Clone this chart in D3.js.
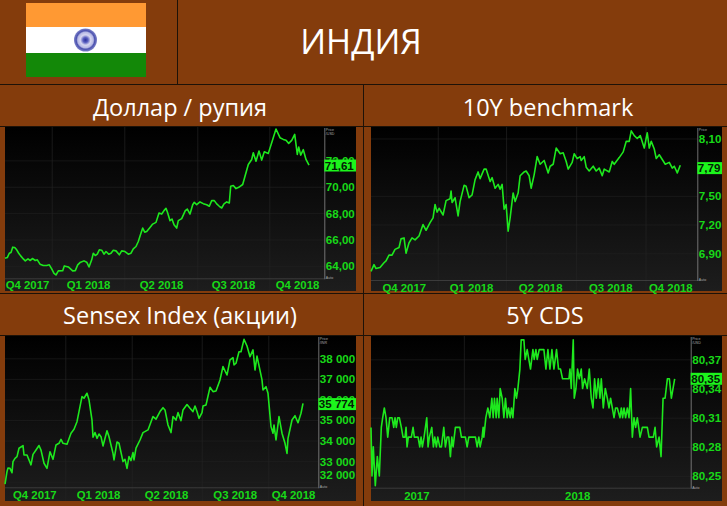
<!DOCTYPE html>
<html><head><meta charset="utf-8">
<script src="https://cdn.jsdelivr.net/npm/d3@7/dist/d3.min.js"></script>
<style>html,body{margin:0;padding:0;background:#843C0C;overflow:hidden}svg{display:block}</style>
</head><body><svg id="c" width="727" height="506"></svg>
<script>
const pageTitle = "ИНДИЯ";
const panelTitles = ["Доллар / рупия","10Y benchmark","Sensex Index (акции)","5Y CDS"];
const quarterLabels = ["Q4 2017","Q1 2018","Q2 2018","Q3 2018","Q4 2018"];
const yearLabels = ["2017","2018"];

const usdValues = [[0,64.58],[2.3,64.63],[4.3,64.96],[6,65.02],[7.7,65.42],[9.7,65.40],[11.7,65.22],[13.7,64.96],[15.7,64.76],[18.3,64.53],[20.3,64.38],[23,64.53],[25,64.41],[27.7,64.56],[30.3,64.41],[32.3,64.46],[35,64.13],[38.3,64.03],[41.7,64.03],[44.3,64.08],[46.7,63.77],[49,63.44],[51,63.31],[53.3,63.62],[57.7,63.64],[59.3,64.00],[63.3,63.92],[67.7,63.62],[70.3,63.64],[72.7,64.08],[75,64.25],[79,64.38],[81.7,64.28],[84,63.92],[86.7,64.46],[88.3,64.96],[90.3,64.79],[92.3,64.89],[94.3,65.22],[96.7,65.19],[99,64.89],[101,65.09],[103.7,64.89],[106,64.96],[108.3,65.19],[111,65.14],[114.3,64.84],[116.7,65.14],[120,65.09],[123.3,64.89],[126,64.96],[128.3,65.29],[131,65.47],[133.3,65.85],[135.7,66.41],[137.7,66.87],[139.7,66.56],[141.7,66.61],[145,66.92],[147.7,67.17],[151,67.30],[154,68.01],[156.7,67.93],[159,68.19],[161,68.37],[162.7,68.01],[165,67.43],[167,67.55],[169,67.12],[171.7,66.87],[173.3,67.43],[176.7,67.58],[180.3,68.19],[182.3,68.31],[185,67.93],[187.7,68.64],[189.3,68.82],[191.7,68.64],[195,68.85],[198.3,68.72],[201.7,68.64],[204.3,68.52],[206.7,68.95],[209.3,68.95],[211.7,68.70],[214.3,68.52],[216.7,68.39],[219,68.70],[221.7,68.85],[224.3,68.77],[225.7,70.04],[228.3,70.09],[231,69.86],[233.7,69.96],[237.7,70.17],[240,70.80],[243.3,71.69],[246.7,72.07],[248.3,72.58],[251,71.94],[254,72.71],[256.7,72.02],[259.3,72.65],[263.3,72.53],[266.7,73.34],[271,74.38],[275,73.72],[278.3,73.59],[281,73.52],[283.7,73.29],[286.7,73.52],[289.7,73.97],[291,73.21],[292.3,72.45],[293.7,73.01],[295.7,72.40],[298.3,72.81],[301,72.07],[304,71.64]];
const usdTickValues = [64,66,68,70,72];
const usdTickLabels = ["64,00","66,00","68,00","70,00","72,00"];
const usdLast = [71.61,"71,61"];

const bondValues = [[0,6.71],[3,6.78],[5,6.74],[9,6.75],[13,6.80],[15,6.82],[18,6.88],[21,6.88],[24,6.94],[28,6.96],[30,7.05],[33,7.06],[35,6.90],[38,7.01],[41,7.06],[44,7.04],[48,7.08],[52,7.20],[55,7.14],[59,7.22],[62,7.27],[64,7.41],[66,7.33],[68,7.37],[72,7.30],[75,7.45],[79,7.47],[80,7.55],[81,7.43],[84,7.48],[87,7.29],[89,7.44],[93,7.61],[95,7.60],[98,7.48],[101,7.51],[104,7.67],[107,7.75],[109,7.68],[113,7.78],[115,7.78],[119,7.65],[121,7.69],[124,7.58],[127,7.62],[129,7.57],[131,7.62],[133,7.36],[135,7.41],[137,7.13],[139,7.27],[142,7.53],[144,7.44],[147,7.53],[149,7.71],[153,7.75],[155,7.76],[158,7.71],[160,7.58],[163,7.72],[166,7.91],[169,7.83],[173,7.87],[177,7.74],[179,7.81],[182,7.83],[185,8.00],[189,7.94],[192,7.95],[195,7.86],[197,7.78],[201,7.85],[203,7.94],[206,7.89],[209,7.91],[210,7.87],[213,7.91],[215,7.80],[218,7.76],[222,7.81],[225,7.76],[228,7.79],[231,7.71],[233,7.78],[238,7.75],[241,7.86],[243,7.83],[248,7.90],[252,7.96],[255,8.07],[258,8.07],[260,8.18],[263,8.13],[266,8.10],[269,8.13],[273,8.00],[276,8.16],[278,8.00],[280,8.07],[283,7.99],[285,7.89],[288,7.93],[291,7.88],[294,7.83],[298,7.85],[301,7.79],[303,7.81],[306,7.74],[309,7.82]];
const bondTickValues = [6.9,7.2,7.5,8.1];
const bondTickLabels = ["6,90","7,20","7,50","8,10"];
const bondLast = [7.79,"7,79"];

const sensexValues = [[0,31890],[2,32490],[3,32670],[5,32650],[7,32440],[8,32980],[10,33140],[12,33220],[14,33630],[18,33760],[19,33300],[22,33300],[26,32820],[28,33330],[31,33540],[34,33760],[36,33540],[39,32900],[42,32650],[45,33460],[48,33090],[51,33790],[54,33870],[56,34060],[58,33870],[62,33820],[66,34360],[69,34550],[72,34920],[77,36140],[79,36060],[82,36300],[84,35980],[87,35000],[88,34160],[90,34390],[92,34110],[94,34320],[96,34190],[98,33740],[102,34480],[104,34190],[108,33380],[109,33060],[112,33930],[114,33870],[118,32980],[120,33090],[122,32650],[124,33220],[126,33030],[128,33420],[129,33060],[131,33630],[135,34030],[138,34390],[143,34520],[148,35170],[151,35040],[155,35410],[158,35600],[160,35490],[163,34760],[166,34390],[168,35170],[171,35000],[173,35360],[176,34970],[178,35490],[182,35750],[185,35570],[188,35410],[190,35680],[192,35410],[194,35080],[197,35360],[198,35680],[201,35730],[205,36590],[208,36380],[211,36410],[215,36950],[218,37600],[222,37190],[225,37920],[228,38030],[229,37680],[231,37760],[234,38320],[236,38320],[239,38920],[242,38600],[245,38080],[248,38410],[250,37430],[252,38110],[257,36950],[258,36460],[261,36620],[263,36300],[266,34680],[268,34360],[269,34760],[271,34030],[274,35170],[277,34360],[280,33870],[282,33380],[283,34110],[287,35000],[290,35210],[293,34870],[296,35330],[298,35810]];
const sensexTickValues = [32000,33000,34000,35000,36000,37000,38000];
const sensexTickLabels = ["32 000","33 000","34 000","35 000","36 000","37 000","38 000"];
const sensexLast = [35774,"35 774"];

const cdsValues = [[0,80.30],[1,80.25],[2.3,80.28],[4.3,80.24],[6.3,80.27],[8.3,80.25],[10.3,80.30],[11.7,80.31],[13.3,80.32],[15,80.31],[16.7,80.29],[18.7,80.31],[21,80.31],[22.7,80.30],[24,80.31],[25.3,80.30],[26.7,80.31],[28.3,80.31],[30.3,80.30],[32,80.29],[34,80.29],[35,80.30],[36,80.28],[37.3,80.29],[40.3,80.29],[42,80.30],[43.3,80.29],[47,80.29],[48.7,80.28],[50,80.29],[51.3,80.28],[53,80.29],[55.7,80.31],[57,80.28],[58.3,80.29],[60.7,80.30],[62.3,80.28],[63.7,80.29],[65.3,80.28],[66.7,80.29],[68.7,80.28],[70.3,80.28],[72.7,80.30],[74.3,80.28],[76,80.29],[77.7,80.29],[79.3,80.27],[80.7,80.29],[82,80.28],[84.3,80.30],[88.7,80.30],[90.3,80.29],[94.3,80.29],[96,80.28],[97.7,80.29],[104.3,80.29],[106,80.28],[107.7,80.29],[109,80.28],[111,80.29],[112,80.30],[112.7,80.29],[114.7,80.31],[116.7,80.32],[118.7,80.31],[120.7,80.33],[122,80.31],[123.3,80.33],[125,80.31],[126,80.33],[127.7,80.31],[129,80.34],[131,80.33],[132.7,80.31],[134.3,80.33],[136,80.31],[137.3,80.32],[139,80.31],[140.3,80.32],[141.7,80.31],[143.7,80.34],[145.3,80.33],[146.7,80.34],[148.7,80.36],[150,80.39],[152.7,80.39],[154,80.37],[156,80.38],[159.3,80.36],[161.7,80.38],[163,80.37],[164.7,80.38],[166,80.37],[168,80.38],[172.7,80.38],[174.7,80.36],[176.7,80.38],[178.7,80.36],[180.7,80.38],[182.7,80.36],[185.3,80.38],[187.3,80.36],[189.3,80.36],[191.3,80.35],[194.3,80.35],[197.7,80.35],[198.7,80.36],[200,80.34],[202,80.39],[203,80.33],[204.7,80.34],[206.3,80.36],[208,80.35],[210,80.36],[211.3,80.34],[213.3,80.35],[216,80.34],[218,80.36],[220,80.33],[221.7,80.32],[223.3,80.35],[225,80.33],[227,80.35],[228.7,80.33],[230,80.35],[232,80.32],[234,80.34],[236,80.33],[237.7,80.32],[239.3,80.33],[241,80.32],[242.7,80.31],[244.3,80.32],[246,80.32],[248.7,80.31],[250,80.32],[251.3,80.31],[252.7,80.32],[254.3,80.31],[256,80.32],[257.7,80.31],[259.3,80.34],[261,80.29],[262.7,80.31],[264.3,80.30],[266,80.31],[268.7,80.29],[271,80.30],[276,80.30],[277.7,80.29],[282,80.29],[283.7,80.30],[285.3,80.28],[287.7,80.29],[289.7,80.27],[291.7,80.33],[293.7,80.33],[296,80.35],[298,80.35],[300,80.33],[303.3,80.35]];
const cdsTickValues = [80.25,80.28,80.31,80.34,80.37];
const cdsTickLabels = ["80,25","80,28","80,31","80,34","80,37"];
const cdsLast = [80.35,"80,35"];

const BROWN = "#843C0C", LINE = "#1ee81e", LAB = "#18d818", TAG = "#1cf51c", RULE = "#1d1208";
const svg = d3.select("#c");

const defs = svg.append("defs");
const g = defs.append("linearGradient").attr("id","bg").attr("x1",0).attr("x2",0).attr("y1",0).attr("y2",1);
g.append("stop").attr("offset","0%").attr("stop-color","#000");
g.append("stop").attr("offset","100%").attr("stop-color","#1d1d1d");
const rg = defs.append("radialGradient").attr("id","chakra");
[["0%","#2a2f9a"],["22%","#5a5fc0"],["45%","#d6d6f0"],["68%","#b6b8e4"],["80%","#4a50ae"],["100%","#7d82c8"]]
  .forEach(s=>rg.append("stop").attr("offset",s[0]).attr("stop-color",s[1]));

svg.append("rect").attr("width",727).attr("height",506).attr("fill",BROWN);

// flag
[[3,24,"#FF9933"],[27,26,"#FFFFFF"],[53,24,"#138808"]].forEach(b=>
  svg.append("rect").attr("x",26).attr("y",b[0]).attr("width",120).attr("height",b[1]).attr("fill",b[2]));
svg.append("circle").attr("cx",85.5).attr("cy",40).attr("r",11.5).attr("fill","url(#chakra)");

// header text
const titleFont = "'Open Sans',sans-serif";
svg.append("text").attr("x",361).attr("y",54).attr("text-anchor","middle")
  .attr("font-family",titleFont).attr("font-size",34).attr("fill","#fff").text(pageTitle);
[[180,116],[548,116],[180,324],[545,324]].forEach((p,i)=>
  svg.append("text").attr("x",p[0]).attr("y",p[1]).attr("text-anchor","middle")
    .attr("font-family",titleFont).attr("font-size",23.5).attr("fill","#fff").text(panelTitles[i]));

// rules
[[177.5,0,177.5,84],[0,84.5,727,84.5],[0,126.5,727,126.5],[363.5,84,363.5,506],[0,293.5,727,293.5],[0,335.5,727,335.5]]
  .forEach(l=>svg.append("line").attr("x1",l[0]).attr("y1",l[1]).attr("x2",l[2]).attr("y2",l[3]).attr("stroke",RULE).attr("stroke-width",1));

function panel(o){
  const p = svg.append("g");
  const [L,R,T,B,AX,ST] = o.box; // panel left/right/top/bottom, axis x, strip top
  p.append("rect").attr("x",L).attr("y",T).attr("width",R-L).attr("height",B-T).attr("fill","url(#bg)");
  const x = d3.scaleLinear().domain([0,o.xMax]).range([L,AX]);
  const y = d3.scaleLinear().domain(o.yDomain).range([ST,T]);

  // gridlines
  const gridY = d3.axisLeft(y).tickValues(o.ticks).tickSize(-(AX-L)).tickFormat("");
  p.append("g").attr("transform",`translate(${L},0)`).call(gridY)
    .call(s=>s.select(".domain").remove()).selectAll("line").attr("stroke","#222").attr("stroke-width",.6);
  const gridX = d3.axisBottom(x).tickValues(o.grid).tickSize(B-T).tickFormat("");
  p.append("g").attr("transform",`translate(0,${T})`).call(gridX)
    .call(s=>s.select(".domain").remove()).selectAll("line").attr("stroke","#242424").attr("stroke-width",.7);

  // strip
  p.append("line").attr("x1",L).attr("x2",AX).attr("y1",ST+.5).attr("y2",ST+.5).attr("stroke","#444").attr("stroke-width",.8);
  p.append("line").attr("x1",AX+.5).attr("x2",AX+.5).attr("y1",T+1).attr("y2",ST+1).attr("stroke","#8a8a8a").attr("stroke-width",.8);

  // line
  p.append("path").datum(o.data).attr("fill","none").attr("stroke",LINE).attr("stroke-width",1.6)
    .attr("stroke-linejoin","round")
    .attr("d",d3.line().x(d=>x(d[0])).y(d=>y(d[1])));

  // y tick labels
  const yAxis = d3.axisRight(y).tickValues(o.ticks).tickSize(0).tickPadding(o.pad)
    .tickFormat((d,i)=>o.labels[i]);
  const ya = p.append("g").attr("transform",`translate(${AX},0)`).call(yAxis);
  ya.select(".domain").remove();
  ya.selectAll("text").attr("font-family","'Liberation Sans',sans-serif").attr("font-weight","bold")
    .attr("font-size",o.fs).attr("fill",LAB).attr("dy",(d,i)=>o.nudge&&o.nudge[i]?o.nudge[i]:"0.34em");

  // last value tag
  const ty = y(o.last[0]);
  p.append("rect").attr("x",AX).attr("y",ty-6).attr("width",R-AX).attr("height",12).attr("fill",TAG);
  p.append("text").attr("x",AX+o.pad-1).attr("y",ty).attr("dy","0.36em")
    .attr("font-family","'Liberation Sans',sans-serif").attr("font-weight","bold").attr("font-size",o.fs)
    .attr("fill","#052005").text(o.last[1]);

  // x labels
  const xAxis = d3.axisBottom(x).tickValues(o.xLabelAt).tickSize(0).tickPadding(0)
    .tickFormat((d,i)=>o.xLabels[i]);
  const xa = p.append("g").attr("transform",`translate(0,${o.xLabelY})`).call(xAxis);
  xa.select(".domain").remove();
  xa.selectAll("text").attr("font-family","'Liberation Sans',sans-serif").attr("font-weight","bold")
    .attr("font-size",11.4).attr("fill",LAB);

  // tiny axis captions
  p.append("text").attr("x",AX+1.5).attr("y",T+4).attr("font-family","'Liberation Sans',sans-serif")
    .attr("font-size",3.6).attr("fill","#aaa").text("Price");
  if(o.unit) p.append("text").attr("x",AX+1.5).attr("y",T+8).attr("font-family","'Liberation Sans',sans-serif")
    .attr("font-size",3.6).attr("fill","#aaa").text(o.unit);
  p.append("text").attr("x",AX+1.5).attr("y",ST+1).attr("font-family","'Liberation Sans',sans-serif")
    .attr("font-size",3.6).attr("fill","#aaa").text("Auto");
}

panel({box:[5,356,127,291,324.3,278.3],xMax:319.3,yDomain:[63.06,74.53],data:usdValues,
  ticks:usdTickValues,labels:usdTickLabels,last:usdLast,fs:11.6,pad:1.5,unit:"/USD",
  grid:[46.7,119.3,192.3,264.3],xLabelAt:[22,83,156,228,292],xLabels:quarterLabels,xLabelY:281});
panel({box:[371,722,127,291,697.3,280],xMax:326,yDomain:[6.62,8.22],data:bondValues,
  ticks:bondTickValues,labels:bondTickLabels,last:bondLast,fs:11.6,pad:1.5,unit:"",
  grid:[66.7,135,205,274.3],xLabelAt:[32.7,100,169,239,299],xLabels:quarterLabels,xLabelY:283.5});
panel({box:[5,356,336,501,318.3,487.3],xMax:313.3,yDomain:[31730,39085],data:sensexValues,
  ticks:sensexTickValues,labels:sensexTickLabels,last:sensexLast,fs:11.6,pad:1.5,unit:"/INR",
  nudge:["-0.25em"],
  grid:[60.3,126.7,196.7,263.3],xLabelAt:[29.3,93,161,229.7,288],xLabels:quarterLabels,xLabelY:490.5});
panel({box:[371,722,336,501,690.7,487.7],xMax:319.3,yDomain:[80.238,80.394],data:cdsValues,
  ticks:cdsTickValues,labels:cdsTickLabels,last:cdsLast,fs:11.6,pad:1.5,unit:"/USD",
  grid:[92.7],xLabelAt:[45.3,206],xLabels:yearLabels,xLabelY:491.5});
</script></body></html>
